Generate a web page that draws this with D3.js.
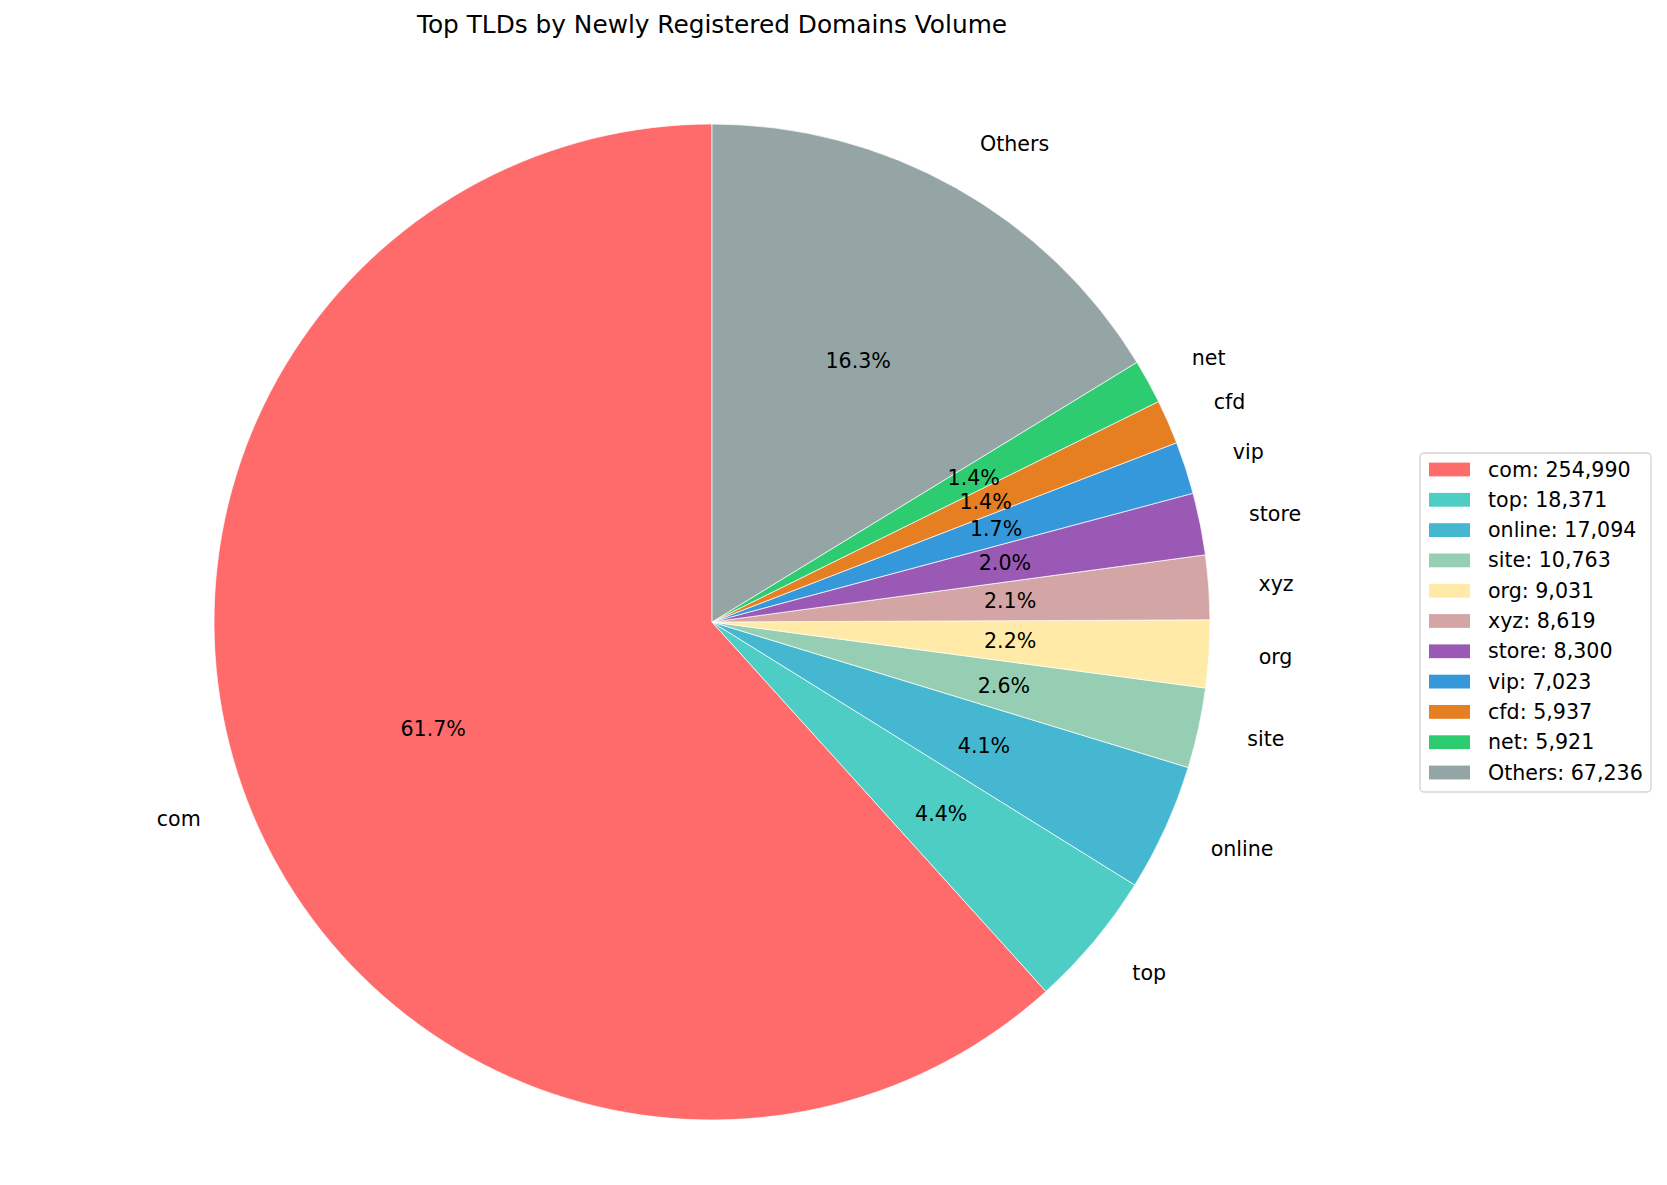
<!DOCTYPE html>
<html>
<head>
<meta charset="utf-8">
<script src="https://cdn.jsdelivr.net/npm/d3@7"></script>
<style>
  html, body { margin: 0; padding: 0; background: #fff; }
  svg { display: block; font-family: "DejaVu Sans", sans-serif; }
</style>
</head>
<body>
<svg id="chart" width="1667" height="1185"></svg>
<script>
const categories = ["com", "top", "online", "site", "org", "xyz", "store", "vip", "cfd", "net", "Others"];
const values = [254990, 18371, 17094, 10763, 9031, 8619, 8300, 7023, 5937, 5921, 67236];
const colors = ["#FF6B6B", "#4ECDC4", "#45B7D1", "#96CEB4", "#FFEAA7", "#D4A5A5", "#9B59B6", "#3498DB", "#E67E22", "#2ECC71", "#95A5A6"];
const titleText = "Top TLDs by Newly Registered Domains Volume";

const data = categories.map((c, i) => ({ name: c, value: values[i], color: colors[i] }));
const total = d3.sum(values);

const svg = d3.select("#chart");
const cx = 712, cy = 622, R = 498;
const fs = 20.6;

svg.append("text")
  .attr("x", cx).attr("y", 33)
  .attr("text-anchor", "middle")
  .attr("font-size", 24.8)
  .attr("fill", "#000")
  .text(titleText);

const pie = d3.pie().value(d => d.value).sort(null).startAngle(0).endAngle(-2 * Math.PI);
const arcs = pie(data);
const arc = d3.arc().innerRadius(0).outerRadius(R);

const g = svg.append("g").attr("transform", `translate(${cx},${cy})`);

g.selectAll("path.wedge").data(arcs).join("path")
  .attr("class", "wedge")
  .attr("d", arc)
  .attr("fill", d => d.data.color)
  .attr("stroke", "#fff")
  .attr("stroke-width", 0.7);

const mid = d => (d.startAngle + d.endAngle) / 2;

// outer labels
g.selectAll("text.lbl").data(arcs).join("text")
  .attr("class", "lbl")
  .attr("x", d => Math.sin(mid(d)) * R * 1.1)
  .attr("y", d => -Math.cos(mid(d)) * R * 1.1)
  .attr("text-anchor", d => Math.sin(mid(d)) > 0 ? "start" : "end")
  .attr("dominant-baseline", "central")
  .attr("font-size", fs)
  .attr("fill", "#000")
  .text(d => d.data.name);

// percentage labels
g.selectAll("text.pct").data(arcs).join("text")
  .attr("class", "pct")
  .attr("x", d => Math.sin(mid(d)) * R * 0.6)
  .attr("y", d => -Math.cos(mid(d)) * R * 0.6)
  .attr("text-anchor", "middle")
  .attr("dominant-baseline", "central")
  .attr("font-size", fs)
  .attr("fill", "#000")
  .text(d => (d.data.value / total * 100).toFixed(1) + "%");

// legend
const lx = 1420, ly = 453, lw = 231, lh = 339;
const leg = svg.append("g");
leg.append("rect")
  .attr("x", lx).attr("y", ly).attr("width", lw).attr("height", lh)
  .attr("rx", 4).attr("ry", 4)
  .attr("fill", "#fff").attr("fill-opacity", 0.8)
  .attr("stroke", "#d5d5d5").attr("stroke-width", 1.4);

const rowY = d3.scaleLinear().domain([0, categories.length - 1]).range([ly + 16.5, ly + 16.5 + 30.3 * (categories.length - 1)]);
const items = leg.selectAll("g.item").data(data).join("g").attr("class", "item");
items.append("rect")
  .attr("x", lx + 9).attr("y", (d, i) => rowY(i) - 6.9)
  .attr("width", 41).attr("height", 13.8)
  .attr("fill", d => d.color);
items.append("text")
  .attr("x", lx + 68).attr("y", (d, i) => rowY(i))
  .attr("dominant-baseline", "central")
  .attr("font-size", fs)
  .attr("fill", "#000")
  .text(d => `${d.name}: ${d3.format(",")(d.value)}`);
</script>
</body>
</html>
